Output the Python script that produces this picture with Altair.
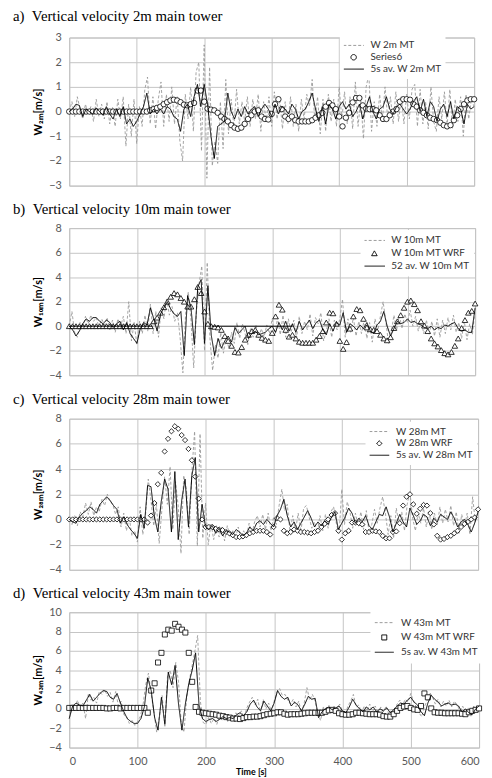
import altair as alt
import pandas as pd

RAW_STEP = 4
AVG_STEP = 5
WRF_STEP = 5

# ---------------- panel a : 2 m ----------------
raw_a = [
    0.0, 0.4, -0.2, 0.6, 0.1, -0.3, 0.3, -0.1, 0.2, -0.4,
    0.5, -0.2, 0.3, -0.3, 0.4, -0.5, 0.2, -0.6, 0.5, -0.3,
    0.6, -1.4, 0.3, -1.0, 0.5, -1.3, 0.2, -0.6, 0.9, 1.4,
    -0.5, 0.6, -0.7, 0.5, 1.2, -0.6, 0.7, -0.4, 1.0, -0.5,
    0.6, -1.2, -2.0, 0.7, -0.3, 1.0, -0.8, 1.6, 2.0, -1.6,
    2.7, -2.7, 1.8, -2.2, -1.2, -2.1, 0.4, -1.5, 1.3, -0.9,
    0.5, -0.6, 0.9, -0.5, 0.4, -0.4, 0.6, -0.6, 0.5, -0.3,
    0.7, -0.8, 0.4, -0.4, 0.6, -0.6, 0.8, -0.3, 0.5, -0.7,
    0.4, -0.5, 0.6, -0.6, 0.3, -0.8, 0.5, -0.3, 0.7, 0.2,
    1.3, -0.4, 0.6, -0.9, 0.5, -0.8, 0.7, -0.4, 0.5, -0.6,
    1.0, -0.3, 0.8, -0.5, 0.6, -0.7, 1.2, -0.6, 0.5, -1.1,
    1.0, 1.5, -0.8, 0.4, -0.6, 0.7, -0.4, 1.0, -0.3, 0.6,
    -0.5, 0.8, -0.4, 0.6, -0.5, 0.7, -0.3, 0.9, 1.1, -0.6,
    0.9, -0.5, 0.4, -0.7, 1.0, -0.4, -0.8, 0.6, -0.3, 0.8,
    -0.6, 0.9, -0.7, 0.5, -0.4, 0.6, -1.0, 0.7, -0.3, 0.5,
    0.2,
]
avg_a = [
    0.0, 0.1, 0.3, 0.25, -0.2, 0.1, 0.0, -0.1, 0.15, 0.0,
    -0.15, 0.2, -0.1, -0.3, 0.1, -0.2, 0.2, -0.5, -0.3, -0.6,
    -0.4, -0.1, 0.2, 0.75, -0.1, 0.1, -0.1, 0.1, -0.1, 0.2,
    0.1, -0.2, -0.3, -0.8, 0.1, 0.3, -0.2, 0.6, 1.1, 0.2,
    1.1, 0.3, -1.0, -1.9, -0.6, -0.5, -0.4, 0.75, 0.0, -0.3,
    0.1, -0.2, 0.2, -0.1, 0.1, 0.2, -0.2, 0.1, 0.3, 0.1,
    -0.2, 0.3, -0.1, 0.2, 0.1, -0.1, 0.3, 0.1, -0.3, 0.0,
    0.1, 0.4, 0.75, 0.1, -0.4, 0.2, -0.5, 0.3, 0.1, -0.3,
    0.2, 0.4, 0.1, 0.3, -0.2, 0.0, 0.3, -0.3, 0.2, 0.6,
    0.0, -0.3, 0.1, 0.2, 0.6, 0.1, -0.1, 0.2, 0.3, 0.1,
    -0.1, 0.1, 0.4, 0.6, 0.0, 0.5, -0.2, 0.4, 0.2, -0.4,
    0.1, 0.3, -0.2, 0.4, -0.3, 0.2, 0.1, -0.5, 0.3, 0.1,
    0.2,
]
wrf_a = [
    0, 0, 0, 0, 0, 0, 0, 0, 0, 0,
    0, 0, 0, 0, 0, 0, 0, 0, 0, 0,
    0, 0, 0, 0, 0.05, 0.1, 0.15, 0.2, 0.3, 0.38,
    0.45, 0.48, 0.45, 0.38, 0.28, 0.25, 0.3, 0.35, 0.85, 0.85,
    0.4, 0.12, 0.08, 0.05, -0.05, -0.2, -0.3, -0.4, -0.55, -0.65,
    -0.7, -0.65, -0.5, -0.3, -0.15, 0.0, 0.05, -0.2, -0.3, -0.32,
    -0.1, 0.3, 0.5, 0.1, -0.2, -0.3, -0.2, -0.35, -0.4, -0.4,
    -0.4, -0.4, -0.35, -0.25, -0.15, -0.05, 0.2, 0.35, 0.25, 0.1,
    -0.2, -0.6, -0.25, -0.05, 0.37, 0.55, 0.55, 0.25, 0.12, 0.1,
    0.1, 0.05, -0.15, -0.3, -0.3, -0.15, 0.0, 0.1, 0.4, 0.5,
    0.5, 0.48, 0.3, 0.2, 0.05, -0.05, -0.15, -0.25, -0.3, -0.35,
    -0.45, -0.55, -0.6, -0.55, -0.35, -0.15, 0.1, 0.3, 0.45, 0.5,
    0.5,
]

# ---------------- panel b : 10 m ----------------
raw_b = [
    0.0, 1.2, -0.5, -0.9, 0.3, -0.2, 0.8, 0.2, 0.9, 0.4,
    0.7, -0.1, 0.6, 0.1, 0.7, -0.3, 0.5, -0.5, 0.6, 0.0,
    0.8, -0.6, 2.0, -1.2, 0.3, -1.5, 0.4, -0.6, 0.9, -0.4,
    1.8, -0.6, 1.2, -0.9, 1.5, 0.6, 2.3, 0.9, 1.6, 0.4,
    1.1, -1.0, -3.8, 1.0, 2.8, 0.5, -3.4, 1.2, 3.5, 4.9,
    -2.0, 5.2, -1.0, -3.6, -1.5, -2.6, -0.5, -2.2, -0.9, -1.8,
    -0.5, -1.4, 0.3, -1.0, 0.2, -0.6, -1.5, -0.2, -0.9, 0.1,
    -1.0, -0.2, -0.9, 0.1, -0.6, 0.6, -0.8, 0.7, -0.7, 0.9,
    -0.9, 0.6, -0.5, 0.5, -1.0, 0.8, -0.6, 0.4, -0.3, 1.0,
    -0.8, 0.7, 0.2, 1.1, -1.2, -0.4, 0.6, -0.9, 0.5, -0.3,
    0.6, 2.2, -0.9, 0.6, -0.5, 0.7, -0.8, 0.4, -0.6, 0.5,
    -1.0, 0.3, -1.3, 0.6, -0.4, 0.8, 2.0, 0.4, -1.4, -0.5,
    0.9, -0.3, 0.9, -0.2, 1.0, 0.3, 1.3, 0.0, 0.8, -0.4,
    0.6, -0.6, 0.5, -0.7, 0.4, -0.8, 0.6, -0.9, 0.5, -0.6,
    0.7, -0.3, 0.9, -0.5, 0.3, -1.0, 0.4, -1.1, 0.2, -0.7,
    1.4,
]
avg_b = [
    0.0, -0.3, -0.8, -0.4, 0.2, 0.6, 0.4, 0.7, 0.7, 0.4,
    0.2, 0.5, 0.3, -0.1, 0.2, 0.4, -0.3, 0.3, -0.6, -1.0,
    -1.4, -0.2, 0.3, 0.1, 1.5, 0.6, -0.4, 1.0, 1.5, 2.0,
    1.4, 1.0, 0.8, 1.2, -2.4, 2.5, 1.5, -1.5, 3.2, 3.8,
    -1.4, 3.3, -0.75, -2.4, -1.0, -1.8, -1.2, -0.8, -1.3, -0.1,
    -0.6, -0.3, 0.0, -1.0, -0.6, -0.4, -0.7, -0.6, -0.5, -0.2,
    0.0, -0.5, 0.3, -0.3, 0.4, -0.4, 0.2, -0.5, 0.4, -0.3,
    0.1, 0.5, -0.2, 0.3, 0.5, -0.3, -0.7, 0.2, -0.4, 0.3,
    0.1, 1.1, -0.5, 0.2, 0.0, -0.3, 0.1, -0.2, 0.3, -0.4,
    -0.6, 0.1, 0.4, 1.2, 0.0, -0.8, -0.2, 0.4, 0.2, 0.3,
    0.6, 0.3, 0.4, 0.2, 0.1, -0.1, -0.2, 0.0, -0.3, -0.1,
    -0.2, 0.1, 0.0, 0.2, 0.3, -0.2, -0.4, -0.3, -0.5, -0.5,
    1.5,
]
wrf_b = [
    0, 0, 0, 0, 0, 0, 0, 0, 0, 0,
    0, 0, 0, 0, 0, 0, 0, 0, 0, 0,
    0, 0, 0, 0, 0, 0.4, 0.7, 1.1, 1.55, 2.0,
    2.4, 2.7, 2.6, 2.3, 2.0, 1.6, 1.6, 2.2, 3.2, 2.7,
    1.2, 0.2, 0.0, -0.05, -0.1, -0.3, -0.8, -1.2, -1.6, -2.1,
    -2.15, -1.7, -1.1, -0.7, -0.4, -0.3, -0.7, -0.95, -1.1, -1.2,
    -0.55, 0.8, 1.75, 1.35, -0.3, -0.85, -0.7, -1.0, -1.27, -1.35,
    -1.35, -1.35, -1.35, -1.1, -0.8, -0.4, 0.3, 1.1, 1.05, 0.2,
    -1.2, -1.85, -1.3, -0.2, 0.8, 1.4, 1.3, 0.6, -0.1, -0.25,
    -0.3, -0.4, -0.7, -1.0, -1.15, -0.9, -0.15, 0.4, 0.9, 1.5,
    2.0, 2.1, 1.8, 1.3, 0.4, 0.05, -0.4, -1.0, -1.4, -1.65,
    -1.95, -2.2, -2.3, -2.1, -1.6, -1.0, -0.15, 0.5, 1.1, 1.25,
    1.85,
]
zero_start_b = [0, 211]
zero_end_b = [123, 330]

# ---------------- panel c : 28 m ----------------
raw_c = [
    0.0, -0.4, 0.3, -0.5, 0.6, 0.2, 1.3, 0.4, 1.4, 0.3,
    1.0, 0.6, 1.6, 1.1, 2.0, 1.4, 1.2, 0.4, 1.0, -0.6,
    0.5, -0.9, 0.2, -1.3, -0.9, -1.8, 1.0, -1.2, 0.4, 3.2,
    1.5, -0.5, 1.2, -1.9, 0.8, 3.4, 1.2, 4.2, -0.8, 3.0,
    1.0, -2.7, 3.5, 2.4, -1.2, 3.8, 7.0, -2.1, 6.8, -1.5,
    1.3, -2.0, -0.3, -1.6, -0.5, -1.4, -0.6, -1.7, -0.5, -1.4,
    -0.9, -1.5, -0.6, -1.5, -0.9, -1.4, -0.3, -1.2, -0.2, 0.3,
    -0.6, 0.4, -0.8, 0.5, -0.9, 0.2, -0.4, 1.1, 2.4, 0.7,
    1.2, -1.0, 0.3, -0.9, 0.5, -1.0, 0.9, 1.1, 0.2, -0.7,
    -0.2, -1.0, 0.3, -0.9, 0.4, -0.7, 0.6, 1.0, -0.3, -1.2,
    2.4, -0.4, 1.4, 0.6, -0.7, 0.5, -0.5, 0.6, -0.8, 0.7,
    -1.0, -0.4, 0.8, -0.3, 0.9, 1.8, 0.5, -1.2, 0.3, -1.5,
    0.9, -0.4, 0.6, -0.9, 1.2, 2.2, 0.1, -0.9, 0.5, -0.3,
    0.9, -0.6, 0.7, -0.8, 0.5, -0.5, 1.0, -0.3, 0.8, -0.2,
    1.1, -0.5, 0.6, -1.1, 0.4, -0.6, 0.5, -1.2, 1.8, -0.2,
    0.6,
]
avg_c = [
    0.0, -0.2, -0.3, 0.2, 0.5, 0.7, 1.0, 0.8, 0.5, 1.2,
    1.5, 1.8, 1.5, 1.1, 0.8, -0.3, 0.2, -0.4, -0.8, -1.1,
    -1.5, 0.4, -0.7, 2.7, 2.6, 0.2, -1.0, 1.4, 3.2, 2.4,
    -1.0, 3.8, -1.6, 1.5, 3.2, -0.6, 3.5, 4.9, -1.0, 1.2,
    -0.6, -0.8, -0.5, -1.1, -0.7, -1.3, -0.9, -1.0, -1.2, -0.8,
    -1.0, -1.3, -1.1, -0.6, -0.9, -0.3, -0.1, -0.4, 0.0, -0.3,
    -0.6, 0.3, 0.8, 1.6, 0.3, -0.6, -0.2, -0.8, -0.3, 0.2,
    0.7, 0.1, -0.6, -0.2, -0.5, -0.1, -0.4, 0.2, 0.6, -0.8,
    -0.3, 0.2, 0.9, 0.5, -0.3, 0.1, -0.2, 0.3, -0.5, -0.8,
    -0.2, 0.4, 0.3, 1.0, 0.2, -1.0, -0.3, 0.4, -0.2, -0.6,
    0.9, 0.3, -0.4, -0.1, 0.4, 0.2, -0.5, 0.1, -0.2, 0.4,
    0.2, 0.0, 0.6, 0.1, -0.6, -0.2, 0.0, -0.4, -1.0, -0.3,
    0.6,
]
wrf_c = [
    0, 0, 0, 0, 0, 0, 0, 0, 0, 0,
    0, 0, 0, 0, 0, 0, 0, 0, 0, 0,
    0, 0, 0, -0.25, 0.3, 1.3, 2.8, 3.7, 5.4, 6.4,
    7.0, 7.4, 7.2, 6.7, 6.3, 5.6, 4.7, 3.4, 1.65, 0.0,
    -0.6, -0.6, -0.6, -0.75, -0.8, -0.85, -1.0, -1.1, -1.25, -1.4,
    -1.4, -1.35, -1.25, -1.1, -1.0, -0.9, -0.9, -0.9, -1.0, -1.2,
    -0.6, 0.1, 0.0, -0.9, -1.1, -1.0, -0.8, -0.9, -1.0, -1.0,
    -1.05, -1.1, -1.0, -0.9, -0.6, -0.35, 0.0, 0.35, 0.5, -0.9,
    -1.6, -1.1, -0.9, -0.25, -0.25, -0.3, -0.4, -1.0, -1.0, -0.9,
    -0.95, -1.0, -1.3, -1.5, -1.5, -1.0, -0.95, -0.3, 1.1, 1.8,
    2.0, 1.2, 0.45, 0.85, 1.15, 1.1, 0.5, -0.4, -1.3, -1.6,
    -1.55, -1.4, -1.3, -1.1, -0.9, -0.6, -0.35, -0.2, 0.0, 0.15,
    0.8,
]

# ---------------- panel d : 43 m ----------------
raw_d = [
    -1.0, 0.5, -0.2, 0.9, 0.1, 0.6, -1.0, 1.6, 0.9, 1.2,
    0.6, 1.8, 1.5, 2.0, 1.3, 1.7, 0.7, 1.8, 0.3, 0.8,
    -0.6, -0.8, -1.5, -1.2, -1.7, -1.3, -0.8, 0.4, 2.5, 3.7,
    1.5, -0.3, -2.4, -0.8, 1.4, -1.8, 3.5, 4.0, 2.2, 4.8,
    2.8, -1.5, -2.4, 1.2, 3.0, 4.5, 6.0, 7.6, 0.8, -1.4,
    -1.6, -0.9, -1.5, -1.0, -1.6, -0.8, -1.2, -0.6, -1.3, -0.8,
    -1.2, -0.4, -0.8, -0.2, -0.9, 0.1, 0.7, 1.2, 0.4, 1.0,
    -0.4, 1.0, 0.0, 0.6, -0.3, 0.8, 1.7, 2.1, 1.4, 1.5,
    0.9, 0.5, 1.0, 0.2, 0.8, -0.4, 0.6, 2.2, 0.9, 1.5,
    0.8, -0.5, -1.2, 0.2, -0.3, 0.4, -0.2, 0.3, 0.0, 0.5,
    -0.3, -0.6, 0.3, 0.8, 1.5, 0.2, 0.4, -0.4, 0.3, -0.2,
    0.5, -0.3, 0.3, -0.5, 0.2, -0.3, 0.3, -0.6, 0.0, -0.3,
    0.5, 0.9, 0.4, 1.0, 0.7, 1.6, 0.8, 0.2, -0.4, -0.8,
    0.2, 0.9, 1.7, 1.2, 0.5, 1.0, 0.2, 0.8, 0.3, 0.9,
    0.2, 0.8, 0.4, -0.2, 0.3, -0.5, 0.1, -0.8, 0.3, -0.2,
    0.3,
]
avg_d = [
    -1.0, 0.3, 0.6, 0.4, 0.3, 0.9, 1.5, 0.8, 1.2, 1.6,
    1.9, 1.8, 1.2, 1.0, 1.6, 0.6, -0.3, -1.0, -1.3, -1.5,
    -1.5, -1.0, 0.2, 3.2, 1.9, -0.9, -2.2, 1.2, -1.6, 3.8,
    2.5, 4.5, 0.5, -2.2, 0.5, 2.6, 4.0, 5.8, 0.4, -1.0,
    -1.3, -1.1, -1.0, -1.3, -1.1, -0.8, -1.0, -0.9, -1.0, -0.6,
    -0.4, -0.7, -0.3, 0.5, 0.9, 0.2, -0.2, 0.8, 0.3, -0.2,
    0.6, 1.9, 1.3, 1.0, 1.2, 0.3, 0.7, 0.4, -0.2, 0.5,
    1.3, 1.0, 1.1, -0.9, -0.3, 0.0, 0.2, -0.1, 0.1, 0.3,
    -0.2, -0.4, 0.2, 1.0, 0.4, 0.0, -0.3, 0.2, -0.1, 0.2,
    -0.3, 0.0, -0.2, 0.1, -0.4, -0.1, 0.3, 0.6, 0.5, 0.9,
    1.2, 0.7, 0.4, -0.3, -0.7, 0.6, 1.4, 1.0, 0.7, 0.3,
    0.5, 0.6, 0.4, 0.5, 0.3, -0.3, 0.0, -0.4, -0.6, 0.0,
    0.3,
]
wrf_d = [
    0.1, 0.1, 0.1, 0.1, 0.1, 0.1, 0.1, 0.1, 0.1, 0.1,
    0.1, 0.05, 0.05, 0.1, 0.1, 0.05, 0.1, 0.1, 0.1, 0.1,
    0.1, 0.1, 0.1, -0.4, 1.9, 2.65, 4.8, 5.8, 7.7, 8.2,
    8.1, 8.8, 8.5, 8.2, 7.9, 5.8, 2.8, 0.2, -0.3, -0.4,
    -0.45, -0.5, -0.55, -0.6, -0.7, -0.75, -0.85, -0.9, -1.0, -1.0,
    -1.05, -0.95, -0.85, -0.85, -0.8, -0.8, -0.75, -0.65, -0.55, -0.5,
    -0.45, -0.35, -0.35, -0.5, -0.6, -0.55, -0.55, -0.55, -0.5, -0.45,
    -0.4, -0.4, -0.4, -0.4, -0.4, -0.3, -0.15, -0.1, -0.2, -0.45,
    -0.55, -0.6, -0.6, -0.55, -0.4, -0.4, -0.45, -0.5, -0.55, -0.55,
    -0.55, -0.6, -0.75, -0.8, -0.8, -0.55, -0.2, 0.1, 0.25, 0.3,
    0.1, -0.05, -0.1, 0.3, 1.6, 1.2, 0.05, -0.35, -0.4, -0.4,
    -0.45, -0.45, -0.45, -0.45, -0.45, -0.5, -0.55, -0.35, -0.2, -0.1,
    0.05,
]

X_TICKS = [0, 100, 200, 300, 400, 500, 600]

LABEL_FONT = "Lato"
TITLE_FONT = "Liberation Serif"
GRID = "#c4c4c4"
LINE_SYMBOL = "M-3.8,0H3.8"


def panel(title, ytitle, raw, avg, wrf, labels, shape, psize, ydomain, yticks,
          width, height, legend_x, legend_y, title_offset, last=False,
          zero=None, row_h=12):
    raw_lab, wrf_lab, avg_lab = labels
    raw_df = pd.DataFrame({"t": [RAW_STEP * i for i in range(len(raw))], "w": raw, "series": raw_lab})
    avg_df = pd.DataFrame({"t": [AVG_STEP * i for i in range(len(avg))], "w": avg, "series": avg_lab})
    wrf_df = pd.DataFrame({"t": [WRF_STEP * i for i in range(len(wrf))], "w": wrf, "series": wrf_lab})

    leg = alt.Legend(
        title=None, orient="none", legendX=legend_x, legendY=legend_y,
        fillColor="white", padding=4, symbolSize=psize, clipHeight=row_h, rowPadding=0,
        symbolStrokeWidth=1, symbolOffset=5, labelOffset=12,
        labelFont=LABEL_FONT, labelFontSize=10, labelColor="#333333",
    )
    color = alt.Color("series:N", scale=alt.Scale(domain=labels, range=["#9a9a9a", "#000000", "#000000"]), legend=leg)
    dash = alt.StrokeDash("series:N", scale=alt.Scale(domain=labels, range=[[3, 2], [1, 0], [1, 0]]), legend=leg)
    shp = alt.Shape("series:N", scale=alt.Scale(domain=labels, range=[LINE_SYMBOL, shape, LINE_SYMBOL]), legend=leg)

    if last:
        xaxis = alt.Axis(values=X_TICKS, title="Time [s]", grid=True, gridColor=GRID,
                         ticks=False, domain=False, labelFont=LABEL_FONT, labelFontSize=11,
                         labelColor="#595959", labelPadding=8, titleFont=LABEL_FONT,
                         titleFontSize=9, titleFontWeight="bold", titleColor="black",
                         titlePadding=1, titleX=184, titleAlign="center")
    else:
        xaxis = alt.Axis(values=X_TICKS, title=None, labels=False, grid=True, gridColor=GRID,
                         ticks=False, domain=False)
    yaxis = alt.Axis(values=yticks, title=ytitle, grid=True, gridColor=GRID, ticks=False,
                     domain=False, labelFont=LABEL_FONT, labelFontSize=11, labelColor="#595959",
                     labelPadding=8, titleFont=LABEL_FONT, titleFontSize=11,
                     titleFontWeight="bold", titleColor="black", titlePadding=5)
    xsc = alt.Scale(domain=[0, 600], nice=False, zero=False)
    ysc = alt.Scale(domain=ydomain, nice=False, zero=False)
    x = alt.X("t:Q", scale=xsc, axis=xaxis)
    y = alt.Y("w:Q", scale=ysc, axis=yaxis)

    raw_layer = alt.Chart(raw_df).mark_line(strokeWidth=0.9).encode(x=x, y=y, color=color, strokeDash=dash)
    wrf_layer = alt.Chart(wrf_df).mark_point(filled=False, fill="white", fillOpacity=1, size=psize,
                                             strokeWidth=0.8, opacity=1).encode(
        x=x, y=y, color=color, shape=shp)
    avg_layer = alt.Chart(avg_df).mark_line(strokeWidth=1.0).encode(x=x, y=y, color=color, strokeDash=dash)
    layers = [raw_layer, wrf_layer, avg_layer]
    if zero is not None:
        zdf = pd.DataFrame({"t0": zero[0], "t1": zero[1], "w": [0.0] * len(zero[0])})
        layers.append(alt.Chart(zdf).mark_rule(color="black", strokeWidth=1).encode(
            x=alt.X("t0:Q", scale=xsc, axis=xaxis), x2="t1:Q",
            y=alt.Y("w:Q", scale=ysc, axis=yaxis)))
    return alt.layer(*layers).properties(
        width=width, height=height,
        title=alt.TitleParams(text=title, anchor="start", frame="group", dx=-57,
                              offset=title_offset, font=TITLE_FONT, fontSize=15,
                              fontWeight="normal", color="black", baseline="alphabetic"),
    )


pa = panel("a)\u00a0\u00a0Vertical velocity 2m main tower", "W\u2082\u2098[m/s]",
           raw_a, avg_a, wrf_a, ["W 2m MT", "Series6", "5s av. W 2m MT"], "circle", 30,
           [-3, 3], [-3, -2, -1, 0, 1, 2, 3], 410, 150, 274, -2, -4, row_h=12)
pb = panel("b)\u00a0\u00a0Vertical velocity 10m main tower", "W\u2081\u2080\u2098[m/s]",
           raw_b, avg_b, wrf_b, ["W 10m MT", "W 10m MT WRF", "52 av. W 10m MT"], "triangle-up", 32,
           [-4, 8], [-4, -2, 0, 2, 4, 6, 8], 411, 149, 295, 2, -7,
           zero=(zero_start_b, zero_end_b), row_h=13)
pc = panel("c)\u00a0\u00a0Vertical velocity 28m main tower", "W\u2082\u2088\u2098[m/s]",
           raw_c, avg_c, wrf_c, ["W 28m MT", "W 28m WRF", "5s av. W 28m MT"], "diamond", 28,
           [-4, 8], [-4, -2, 0, 2, 4, 6, 8], 414, 153, 300, 3, -6, row_h=12)
pd_ = panel("d)\u00a0\u00a0Vertical velocity 43m main tower", "W\u2084\u2083\u2098[m/s]",
            raw_d, avg_d, wrf_d, ["W 43m MT", "W 43m MT WRF", "5s av. W 43m MT"], "square", 26,
            [-4, 10], [-4, -2, 0, 2, 4, 6, 8, 10], 415, 137, 305, -1, -7, last=True, row_h=15)

chart = alt.vconcat(pa, pb, pc, pd_, spacing=10).properties(
    padding={"left": 4, "top": -5, "right": 0, "bottom": 0}
).configure_view(stroke="#bdbdbd", strokeWidth=1).resolve_scale(
    color="independent", strokeDash="independent", shape="independent"
)

chart.save("out.html", embed_options={"renderer": "svg", "actions": False})
